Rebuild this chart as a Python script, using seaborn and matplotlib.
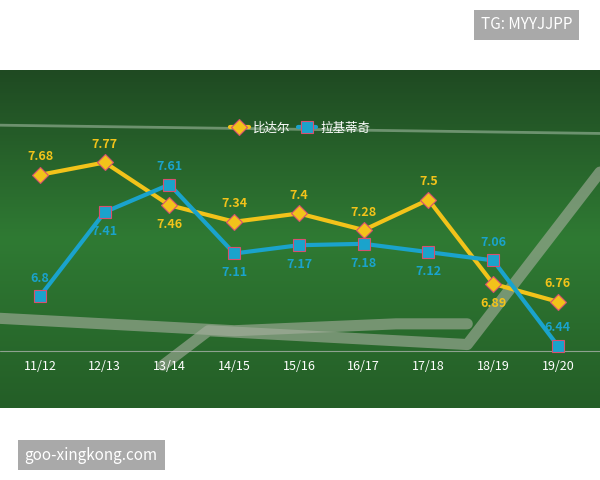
import matplotlib
matplotlib.use("Agg")
import matplotlib.pyplot as plt
import seaborn as sns
import numpy as np
import pandas as pd

seasons = ["11/12","12/13","13/14","14/15","15/16","16/17","17/18","18/19","19/20"]
vidal = [7.68,7.77,7.46,7.34,7.4,7.28,7.5,6.89,6.76]
rakitic = [6.8,7.41,7.61,7.11,7.17,7.18,7.12,7.06,6.44]
vidal_pos = ["a","a","b","a","a","a","a","b","a"]
rak_pos = ["a","b","a","b","b","b","b","a","a"]

sns.set_theme(style="white")
plt.rcParams['font.family'] = ['Noto Sans CJK SC', 'DejaVu Sans']

fig = plt.figure(figsize=(6,4.8), dpi=100)
fig.patch.set_facecolor("white")
ax = fig.add_axes([0, 72/480, 1, 338/480])

g = np.linspace(0,1,200)[:,None]*np.ones((1,10))
ax.imshow(g, extent=[-0.618,8.65,5.99,8.44], aspect="auto", cmap=matplotlib.colors.LinearSegmentedColormap.from_list("f",["#1f4a22","#2f7a33","#245e27"]), zorder=0)
ax.plot([-0.618,8.65],[8.04,7.98], color="#9fb89f", lw=2, alpha=0.6, zorder=1)
ax.plot([-0.618,3.0,5.5,6.6],[6.64,6.55,6.6,6.6], color="#a8b0a0", lw=8, alpha=0.6, zorder=1)
ax.plot([1.9,2.6,6.6,8.65],[6.3,6.55,6.45,7.7], color="#a8b0a0", lw=8, alpha=0.6, zorder=1)

df = pd.DataFrame({"season": list(range(9))*2, "v": vidal+rakitic,
                   "p": ["比达尔"]*9+["拉基蒂奇"]*9})
pal = {"比达尔":"#f2c31a","拉基蒂奇":"#1aa3cc"}
sns.lineplot(data=df, x="season", y="v", hue="p", palette=pal, style="p",
             markers={"比达尔":"D","拉基蒂奇":"s"}, dashes=False, lw=3,
             markersize=8, markeredgecolor="#d85070", markeredgewidth=0.8, ax=ax, zorder=3)

for vals, pos, c in [(vidal, vidal_pos, "#f2c31a"), (rakitic, rak_pos, "#1aa3cc")]:
    for i,(v,p) in enumerate(zip(vals,pos)):
        off = 0.13 if p=="a" else -0.14
        ax.text(i, v+off, f"{v:g}", ha="center", va="center", color=c, fontsize=9, fontweight="bold", zorder=4)

ax.axhline(6.40, color="#bbbbbb", lw=0.8, alpha=0.7, zorder=2)
for i,s in enumerate(seasons):
    ax.text(i, 6.29, s, ha="center", va="center", color="white", fontsize=9, zorder=4)

ax.set_xlim(-0.618,8.65); ax.set_ylim(5.99,8.44)
ax.set_axis_off()
leg = ax.legend(loc="upper center", bbox_to_anchor=(0.5,0.88), ncol=2, frameon=False,
                fontsize=9, handlelength=1.5, columnspacing=0.6, handletextpad=0.3, title=None)
for t in leg.get_texts(): t.set_color("white")

fig.text(0.878, 0.948, "TG: MYYJJPP", ha="center", va="center", color="white", fontsize=11,
         bbox=dict(boxstyle="square,pad=0.45", fc="#a9a9a9", ec="none"))
fig.text(0.152, 0.052, "goo-xingkong.com", ha="center", va="center", color="white", fontsize=11,
         bbox=dict(boxstyle="square,pad=0.45", fc="#a9a9a9", ec="none"))
fig.savefig("out.png", dpi=100)
